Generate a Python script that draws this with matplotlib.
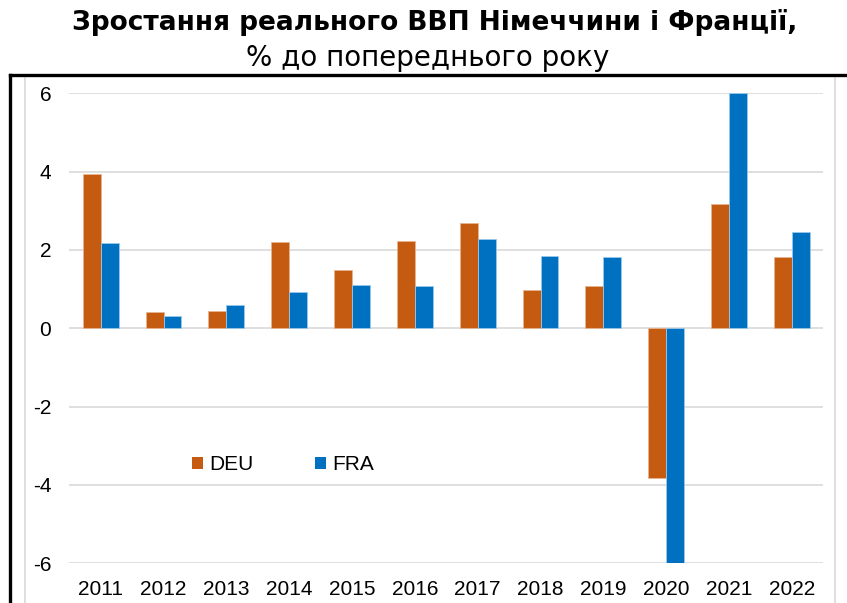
import matplotlib
matplotlib.use("Agg")
import matplotlib.pyplot as plt
import numpy as np
from matplotlib.lines import Line2D
from matplotlib.patches import Patch

years = ["2011", "2012", "2013", "2014", "2015", "2016", "2017", "2018", "2019", "2020", "2021", "2022"]
deu = [3.93, 0.41, 0.43, 2.20, 1.49, 2.24, 2.68, 0.98, 1.07, -3.81, 3.18, 1.81]
fra = [2.19, 0.31, 0.59, 0.93, 1.11, 1.08, 2.28, 1.85, 1.83, -6.0, 6.0, 2.45]
yticks = [-6, -4, -2, 0, 2, 4, 6]

title1 = "Зростання реального ВВП Німеччини і Франції,"
title2 = "% до попереднього року"

c_deu = "#C55A11"
c_fra = "#0070C0"

W, H = 847, 603
fig = plt.figure(figsize=(W / 100, H / 100), dpi=100)
left, right, top, bottom = 69.3, 823.3, 93.3, 563.3
ax = fig.add_axes([left / W, 1 - bottom / H, (right - left) / W, (bottom - top) / H])

x = np.arange(len(years))
bw = 0.285
ax.bar(x - bw / 2, deu, bw, color=c_deu, edgecolor="#E8B490", linewidth=0.6, zorder=3)
ax.bar(x + bw / 2, fra, bw, color=c_fra, edgecolor="#9CC8EA", linewidth=0.6, zorder=3)

ax.set_xlim(-0.5, len(years) - 0.5)
ax.set_ylim(-6, 6)
ax.set_yticks(yticks)
ax.set_yticklabels([str(v) for v in yticks])
ax.set_xticks(x)
ax.set_xticklabels(years)
for s in ax.spines.values():
    s.set_visible(False)
ax.grid(axis="y", color="#D9D9D9", linewidth=1.2, zorder=0)
ax.tick_params(axis="both", length=0, labelsize=15)
ax.tick_params(axis="y", pad=13)
ax.tick_params(axis="x", pad=12)
for lab in ax.get_xticklabels() + ax.get_yticklabels():
    lab.set_fontfamily("Liberation Sans")

handles = [Patch(facecolor=c_deu, label="DEU"), Patch(facecolor=c_fra, label="FRA")]
ax.legend(handles=handles, ncol=2, frameon=False, loc="center left",
          bbox_to_anchor=(192 / W, 1 - 465 / H), bbox_transform=fig.transFigure,
          borderaxespad=0, borderpad=0, handlelength=0.53, handleheight=0.53,
          handletextpad=0.3, columnspacing=2.95,
          prop={"family": "Liberation Sans", "size": 15})

fig.text(435 / W, 1 - 22 / H, title1, ha="center", va="center",
         fontsize=19, fontweight="bold", family="DejaVu Sans")
fig.text(428 / W, 1 - 58 / H, title2, ha="center", va="center",
         fontsize=20, family="DejaVu Sans")

# chart frame lines
fig.add_artist(Line2D([25 / W, 25 / W], [0, 1 - 75 / H], color="#D9D9D9", lw=1.2))
fig.add_artist(Line2D([835 / W, 835 / W], [0, 1 - 75 / H], color="#D9D9D9", lw=1.2))
fig.add_artist(Line2D([10 / W, 10 / W], [0, 1 - 75 / H], color="black", lw=2.4))
fig.add_artist(Line2D([10 / W, 1], [1 - 75 / H, 1 - 75 / H], color="black", lw=2.4))

fig.savefig("out.png", dpi=100)
